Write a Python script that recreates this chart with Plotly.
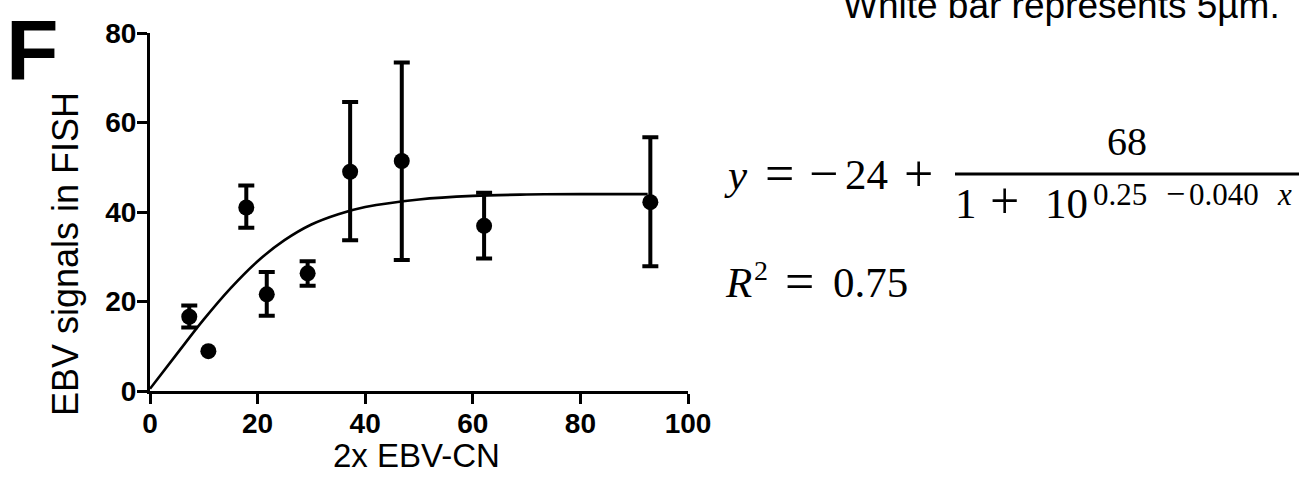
import plotly.graph_objects as go

# ---------------- data ----------------
x_cn = [7.3, 10.85, 17.9, 21.7, 29.3, 37.2, 46.8, 62.1, 93.0]
y_fish = [16.6, 8.9, 41.0, 21.6, 26.3, 49.0, 51.4, 36.9, 42.2]
y_upper = [19.1, None, 45.9, 26.6, 29.0, 64.6, 73.4, 44.3, 56.7]
y_lower = [14.2, None, 36.5, 16.8, 23.5, 33.7, 29.3, 29.6, 27.9]

fit_x = [0, 5, 10, 15, 20, 25, 30, 35, 40, 50, 60, 70, 80, 92.5]
fit_y = [0.5, 8.3, 16.0, 23.0, 29.0, 33.7, 37.2, 39.5, 41.1, 42.8, 43.6, 43.9, 44.0, 44.0]

x_ticks = [0, 20, 40, 60, 80, 100]
y_ticks = [0, 20, 40, 60, 80]

x_title = "2x EBV-CN"
y_title = "EBV signals in FISH"
panel_letter = "F"
caption = "White bar represents 5µm."

# ---------------- figure ----------------
W, H = 1316, 479
L, R, T, B = 150, 628, 33, 88
PW, PH = W - L - R, H - T - B


def px(x):
    return (x - L) / PW


def py(y):
    return (H - B - y) / PH


K = 0.34  # baseline -> box centre factor


def ann(text, cx, base, size, family="Liberation Serif", weight="normal",
        xanchor="center", angle=0):
    return dict(text=text, x=px(cx), y=py(base - K * size), xref="paper",
                yref="paper", xanchor=xanchor, yanchor="middle",
                showarrow=False, textangle=angle,
                font=dict(family=family, size=size, color="black",
                          weight=weight))


fig = go.Figure()

fig.add_trace(go.Scatter(x=fit_x, y=fit_y, mode="lines",
                         line=dict(color="black", width=2.6, shape="spline"),
                         hoverinfo="skip", cliponaxis=False))

idx_err = [i for i in range(len(x_cn)) if y_upper[i] is not None]
idx_noerr = [i for i in range(len(x_cn)) if y_upper[i] is None]

fig.add_trace(go.Scatter(
    x=[x_cn[i] for i in idx_err], y=[y_fish[i] for i in idx_err],
    mode="markers", marker=dict(color="black", size=16),
    error_y=dict(type="data", symmetric=False,
                 array=[y_upper[i] - y_fish[i] for i in idx_err],
                 arrayminus=[y_fish[i] - y_lower[i] for i in idx_err],
                 color="black", thickness=4, width=8),
    cliponaxis=False))

fig.add_trace(go.Scatter(
    x=[x_cn[i] for i in idx_noerr], y=[y_fish[i] for i in idx_noerr],
    mode="markers", marker=dict(color="black", size=16), cliponaxis=False))

tickfont = dict(family="Liberation Sans, Arial", size=28, color="black",
                weight="bold")

fig.update_xaxes(range=[0, 100], tickvals=x_ticks, ticks="outside",
                 ticklen=10, tickwidth=3, tickcolor="black", showline=True,
                 linewidth=3, linecolor="black", showgrid=False,
                 zeroline=False, tickfont=tickfont, ticklabelstandoff=-5)
fig.update_yaxes(range=[0, 80], tickvals=y_ticks, ticks="outside",
                 ticklen=10, tickwidth=3, tickcolor="black", showline=True,
                 linewidth=3, linecolor="black", showgrid=False,
                 zeroline=False, tickfont=tickfont, ticklabelstandoff=-5)

annotations = [
    ann(panel_letter, 32.5, 79, 86, family="Liberation Sans, Arial", weight="bold"),
    dict(text=y_title, x=px(66), y=py(254), xref="paper", yref="paper",
         xanchor="center", yanchor="middle", showarrow=False, textangle=-90,
         font=dict(family="Liberation Sans, Arial", size=36, color="black")),
    ann(x_title, 416.5, 467, 33, family="Liberation Sans, Arial"),
    ann(caption, 841, 18, 37, family="Liberation Sans, Arial", xanchor="left"),
    # main line
    ann("<i>y</i>", 736, 189, 43),
    ann("=", 779.5, 191, 52),
    ann("−", 823.7, 191, 52),
    ann("24", 866, 189, 43),
    ann("+", 918, 191, 52),
    # numerator
    ann("68", 1127, 155, 40),
    # denominator
    ann("1", 966, 218, 43),
    ann("+", 1004.5, 218, 52),
    ann("10", 1066.5, 218, 43),
    ann("0.25", 1119.5, 205, 31),
    ann("−", 1175.5, 205, 34),
    ann("0.040", 1224, 205, 31),
    ann("<i>x</i>", 1284.5, 205, 31),
    # R^2 line
    ann("<i>R</i>", 738, 297, 43),
    ann("2", 761, 280, 28),
    ann("=", 799, 299, 52),
    ann("0.75", 870, 297, 43),
]

shapes = [dict(type="line", xref="paper", yref="paper", x0=px(955), x1=px(1299),
               y0=py(174), y1=py(174), line=dict(color="black", width=3))]

fig.update_layout(width=W, height=H, margin=dict(l=L, r=R, t=T, b=B, pad=0),
                  paper_bgcolor="white", plot_bgcolor="white",
                  showlegend=False, annotations=annotations, shapes=shapes)

fig.write_html("out.html", config={"displayModeBar": False},
               post_script="document.body.style.margin='0';")
